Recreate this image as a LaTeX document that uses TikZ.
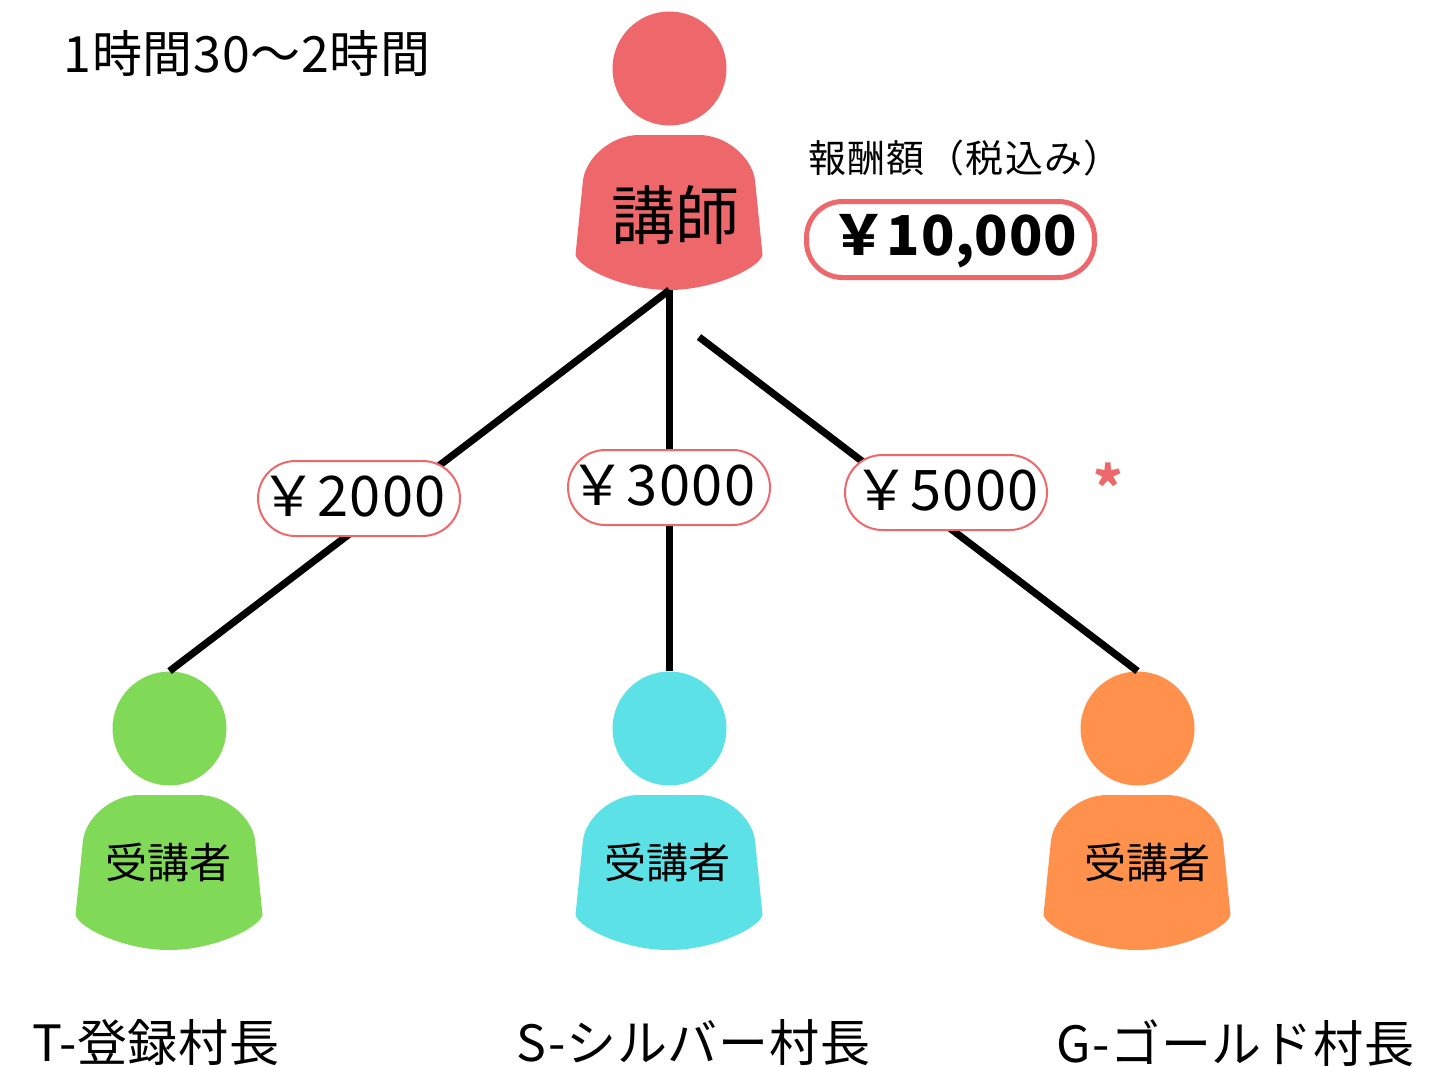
\documentclass[tikz,border=0pt]{standalone}
\usepackage{fontspec}
\usepackage{xcolor}
\setmainfont{Noto Sans CJK JP}
\usetikzlibrary{positioning}
\definecolor{teachercolor}{RGB}{238,103,107}
\definecolor{greencolor}{RGB}{128,218,88}
\definecolor{cyancolor}{RGB}{92,225,230}
\definecolor{orangecolor}{RGB}{255,145,77}

\begin{document}
\begin{tikzpicture}[
    x=0.5pt, y=-0.5pt,
    head/.style={circle, inner sep=0pt, minimum size=57pt},
    label/.style={inner sep=0pt, font=\fontsize{25}{30}\selectfont\addfontfeature{LetterSpace=1.5}},
    role/.style={inner sep=0pt, font=\fontsize{21}{26}\selectfont},
    fee/.style={draw=teachercolor, fill=white, line width=1pt, rounded corners=18.7pt, minimum width=101pt, minimum height=37.5pt, inner sep=0pt, text height=18pt, text depth=0.5pt, font=\fontsize{28}{34}\selectfont\addfontfeature{LetterSpace=2.5}},
    branch/.style={line width=3.6pt},
    pics/person/.style={code={
        \node[head, fill=#1] (-head) at (0.5,0.5) {};
        \fill[#1] (-30,67) -- (30,67) .. controls (58,67) and (83,90) .. (86,112)
            -- (93.5,187) .. controls (90,200) and (45,222) .. (0,222)
            .. controls (-45,222) and (-90,200) .. (-93.5,187) -- (-86,112)
            .. controls (-83,90) and (-58,67) .. (-30,67) -- cycle;
        \coordinate (-foot) at (0.5,222);
    }}
]
    \useasboundingbox (0,0) rectangle (1445,1066);

    % Duration
    \node[label] (duration) at (247,53) {1時間30〜2時間};

    % Teacher
    \pic (teacher) at (669,68) {person=teachercolor};
    \node[font=\fontsize{32}{36}\selectfont, inner sep=0pt] (teachertext) at (675,215) {講師};
    \node[font=\fontsize{19}{24}\selectfont\addfontfeature{LetterSpace=3.7}, inner sep=0pt] (rewardtext) at (965,158) {報酬額（税込み）};
    \node[draw=teachercolor, line width=2.5pt, rounded corners=18pt, minimum width=144pt, minimum height=38pt, inner sep=0pt] (reward) at (950.5,239.5) {};
    \node[font=\fontsize{27.5}{34}\selectfont\bfseries\addfontfeature{LetterSpace=1}, inner sep=0pt] (rewardvalue) at (954,241) {￥10,000};

    % Students
    \pic (tstudent) at (169,728) {person=greencolor};
    \pic (sstudent) at (669,728) {person=cyancolor};
    \pic (gstudent) at (1137,728) {person=orangecolor};
    \node[role] (ttext) at (168,862) {受講者};
    \node[role] (stext) at (667,862) {受講者};
    \node[role] (gtext) at (1147,862) {受講者};

    % Branches
    \coordinate (gstart) at (699,337);
    \draw[branch] (teacher-foot) -- (tstudent-head.north);
    \draw[branch] (teacher-foot) -- (sstudent-head.north);
    \draw[branch] (gstart) -- (gstudent-head.north);

    % Fees
    \node[fee] (tfee) at (359,498.5) {￥2000\kern6pt};
    \node[fee] (sfee) at (669,487.5) {￥3000\kern6.5pt};
    \node[fee] (gfee) at (946,492.5) {￥5000};
    \node[text=teachercolor, font=\fontsize{28}{34}\selectfont\bfseries, inner sep=0pt] (star) at (1108,486) {*};

    % Names
    \node[label] (tname) at (156,1043) {T-登録村長};
    \node[label] (sname) at (693.5,1043) {S-シルバー村長};
    \node[label] (gname) at (1235.5,1043) {G-ゴールド村長};
\end{tikzpicture}
\end{document}
